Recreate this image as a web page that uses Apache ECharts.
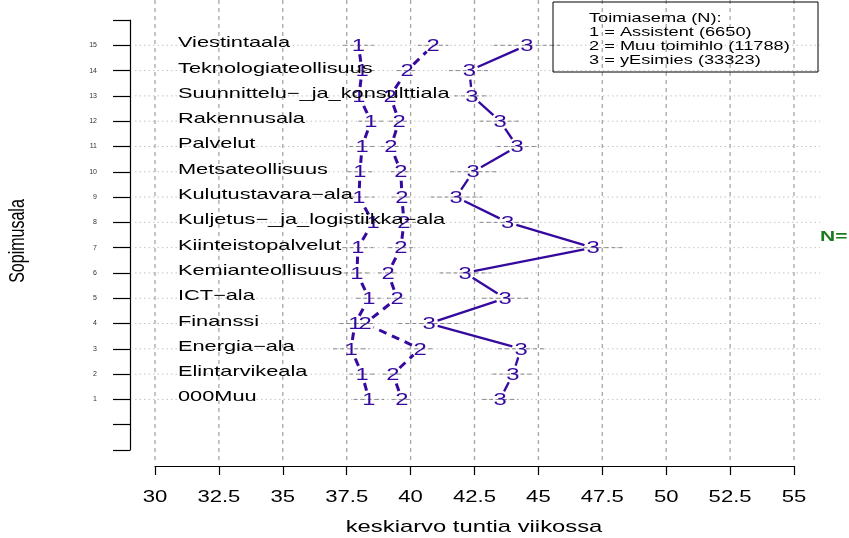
<!DOCTYPE html>
<html><head><meta charset="utf-8">
<script src="https://cdn.jsdelivr.net/npm/echarts@6/dist/echarts.min.js"></script>
<style>html,body{margin:0;padding:0;background:#fff}#c{width:849px;height:538px}</style>
</head><body><div id="c"></div>
<script>
// ---- data ----
const categories = ['000Muu','Elintarvikeala','Energia\u2212ala','Finanssi','ICT\u2212ala','Kemianteollisuus','Kiinteistopalvelut','Kuljetus\u2212_ja_logistiikka\u2212ala','Kulutustavara\u2212ala','Metsateollisuus','Palvelut','Rakennusala','Suunnittelu\u2212_ja_konsulttiala','Teknologiateollisuus','Viestintaala'];
const rows = [1,2,3,4,5,6,7,8,9,10,11,12,13,14,15];
const assistent = [38.37, 38.10, 37.67, 37.82, 38.37, 37.90, 37.94, 38.53, 37.98, 38.02, 38.10, 38.45, 37.98, 38.10, 37.96];
const muuToimihlo = [39.66, 39.31, 40.37, 38.22, 39.47, 39.12, 39.62, 39.74, 39.66, 39.62, 39.23, 39.55, 39.20, 39.86, 40.88];
const esimies = [43.50, 44.00, 44.32, 40.72, 43.70, 42.13, 47.14, 43.80, 41.78, 42.45, 44.17, 43.50, 42.40, 42.30, 44.55];
const ciAssistent = [0.6, 0.5, 0.7, 0.6, 0.5, 0.5, 0.6, 0.6, 0.6, 0.5, 0.5, 0.5, 0.5, 0.5, 0.6];
const ciMuu = [0.4, 0.4, 0.5, 0.4, 0.4, 0.4, 0.5, 0.5, 0.4, 0.4, 0.4, 0.4, 0.4, 0.4, 0.6];
const ciEsimies = [0.7, 0.8, 0.9, 1.2, 0.9, 1.0, 1.2, 1.1, 1.0, 0.9, 0.8, 0.8, 0.7, 0.8, 1.3];
const xTicks = [30, 32.5, 35, 37.5, 40, 42.5, 45, 47.5, 50, 52.5, 55];
const xTickLabels = ['30','32.5','35','37.5','40','42.5','45','47.5','50','52.5','55'];
const yTickLabels = ['1','2','3','4','5','6','7','8','9','10','11','12','13','14','15'];
const legendLines = ['Toimiasema (N):','1 = Assistent (6650)','2 = Muu toimihlo (11788)','3 = yEsimies (33323)'];
const seriesMarks = ['1','2','3'];

// ---- style ----
const COLOR = '#35099e';
const FONT = '"Liberation Sans", Arial, Helvetica, sans-serif';

function segData(arr){ return rows.slice(0,-1).map((r,i)=>[arr[i], rows[i], arr[i+1], rows[i+1]]); }
function segRender(dash, width){
  return function(params, api){
    const a = api.coord([api.value(0), api.value(1)]);
    const b = api.coord([api.value(2), api.value(3)]);
    const dx=b[0]-a[0], dy=b[1]-a[1]; const L=Math.hypot(dx,dy); const g=9;
    if (L<=2*g) return null;
    const ux=dx/L, uy=dy/L;
    return {type:'line', shape:{x1:a[0]+ux*g, y1:a[1]+uy*g, x2:b[0]-ux*g, y2:b[1]-uy*g},
      style:{stroke:COLOR, lineWidth:width, lineDash:dash, lineCap:'butt'}};
  };
}
function ciData(arr, ci){ return rows.map((r,i)=>[arr[i]-ci[i], r, arr[i]+ci[i]]); }
function ciRender(params, api){
  const a = api.coord([api.value(0), api.value(1)]);
  const b = api.coord([api.value(2), api.value(1)]);
  return {type:'line', shape:{x1:a[0], y1:a[1], x2:b[0], y2:b[1]}, style:{stroke:'#8a8a8a', lineWidth:1, lineDash:[4,3]}};
}
function markRender(mark){
  return function(params, api){
    const p = api.coord([api.value(0), api.value(1)]);
    return {type:'text', x:p[0], y:p[1]+1, scaleX:1.4,
      style:{text:mark, fontSize:17, fontFamily:FONT, fill:COLOR, align:'center', verticalAlign:'middle'}};
  };
}

const series = [];
series.push({type:'custom', coordinateSystem:'cartesian2d', silent:true, z:1,
  data: xTicks.map(v=>[v,0]),
  renderItem:(params, api)=>{
    const t = api.coord([api.value(0), 16]); const b = api.coord([api.value(0), -1]);
    return {type:'line', shape:{x1:t[0], y1:t[1]-20, x2:b[0], y2:b[1]+11}, style:{stroke:'#a6a6a6', lineWidth:1.3, lineDash:[4,4]}};
  }});
series.push({type:'custom', coordinateSystem:'cartesian2d', silent:true, z:1,
  data: rows.map(r=>[30,r]),
  renderItem:(params, api)=>{
    const a = api.coord([30, api.value(1)]); const b = api.coord([55, api.value(1)]);
    return {type:'line', shape:{x1:a[0]-20, y1:a[1], x2:b[0]+26, y2:b[1]}, style:{stroke:'#c4c4c4', lineWidth:1, lineDash:[1.5,3]}};
  }});
series.push({type:'custom', coordinateSystem:'cartesian2d', silent:true, z:5,
  data: xTicks.map((v,i)=>[v,-1,i]),
  renderItem:(params, api)=>{
    const p = api.coord([api.value(0), -1]);
    return {type:'text', x:p[0], y:p[1]+47, scaleX:1.3,
      style:{text:xTickLabels[api.value(2)], fontSize:17, fontFamily:FONT, fill:'#000', align:'center', verticalAlign:'middle'}};
  }});
[[assistent,ciAssistent],[muuToimihlo,ciMuu],[esimies,ciEsimies]].forEach(([arr,ci])=>{
  series.push({type:'custom', coordinateSystem:'cartesian2d', silent:true, z:2, data:ciData(arr,ci), renderItem:ciRender});
});
series.push({type:'custom', coordinateSystem:'cartesian2d', silent:true, z:3, data:segData(assistent), renderItem:segRender([8,6],3)});
series.push({type:'custom', coordinateSystem:'cartesian2d', silent:true, z:3, data:segData(muuToimihlo), renderItem:segRender([8,6],3)});
series.push({type:'custom', coordinateSystem:'cartesian2d', silent:true, z:3, data:segData(esimies), renderItem:segRender(null,2.3)});
[assistent, muuToimihlo, esimies].forEach((arr,k)=>{
  series.push({type:'custom', coordinateSystem:'cartesian2d', silent:true, z:4,
    data: rows.map((r,i)=>[arr[i], r]), renderItem:markRender(seriesMarks[k])});
});
series.push({type:'custom', coordinateSystem:'cartesian2d', silent:true, z:6,
  data: rows.map((r,i)=>[30, r, i]),
  renderItem:(params, api)=>{
    const p = api.coord([30, api.value(1)]);
    return {type:'text', x:p[0]+23, y:p[1]-2, scaleX:1.5,
      style:{text:categories[api.value(2)], fontSize:14.5, fontFamily:FONT, fill:'#000', align:'left', verticalAlign:'middle'}};
  }});

const option = {
  backgroundColor:'#fff',
  animation:false,
  grid:{left:155, right:55, top:20, bottom:88, containLabel:false},
  xAxis:{type:'value', min:30, max:55, interval:2.5, position:'bottom', offset:16,
    axisLine:{show:true, onZero:false, lineStyle:{color:'#000', width:1.2}},
    axisTick:{show:true, length:9, lineStyle:{color:'#000', width:1.2}},
    axisLabel:{show:false}, splitLine:{show:false}},
  yAxis:{type:'value', min:-1, max:16, interval:1, position:'left', offset:25,
    axisLine:{show:true, onZero:false, lineStyle:{color:'#000', width:1.2}},
    axisTick:{show:true, length:17, lineStyle:{color:'#000', width:1.2}},
    axisLabel:{fontSize:7, margin:33, color:'#333', fontFamily:FONT,
      formatter:(v)=>{ const i = rows.indexOf(v); return i>=0 ? yTickLabels[i] : ''; }},
    splitLine:{show:false}},
  graphic:[
    {type:'rect', shape:{x:553, y:2, width:265, height:70}, style:{fill:'none', stroke:'#000', lineWidth:1}, z:10},
    ...legendLines.map((t,i)=>({type:'text', x:589, y:18+i*14, scaleX:1.35, z:10,
      style:{text:t, fontSize:13.5, fontFamily:FONT, fill:'#000', align:'left', verticalAlign:'middle'}})),
    {type:'text', x:474, y:527, scaleX:1.4, style:{text:'keskiarvo tuntia viikossa', fontSize:17, fontFamily:FONT, fill:'#000', align:'center', verticalAlign:'middle'}},
    {type:'text', x:18, y:241, rotation:Math.PI/2, scaleY:1.35, style:{text:'Sopimusala', fontSize:16, fontFamily:FONT, fill:'#000', align:'center', verticalAlign:'middle'}},
    {type:'text', x:820, y:237, scaleX:1.5, style:{text:'N=', fontSize:14, fontWeight:'bold', fontFamily:FONT, fill:'#1e7b1e', align:'left', verticalAlign:'middle'}}
  ],
  series
};
const chart = echarts.init(document.getElementById('c'), null, {renderer:'canvas'});
chart.setOption(option);
</script>
</body></html>
